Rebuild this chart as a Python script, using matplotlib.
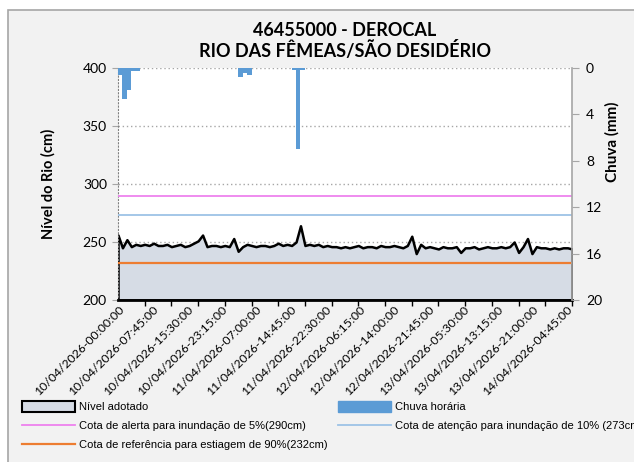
import matplotlib
matplotlib.use("Agg")
import matplotlib.pyplot as plt
from matplotlib.patches import Rectangle, Patch
from matplotlib.lines import Line2D

# hourly river level (cm), hour 0 = 10/04/2026 00:00
level = [256, 245, 252, 246, 248, 247, 248, 247, 249, 247,
         247, 248, 246, 247, 248, 246, 247, 249, 251, 256,
         246, 247, 247, 246, 247, 246, 253, 242, 246, 248,
         247, 246, 247, 247, 246, 247, 249, 247, 248, 247,
         250, 264, 247, 248, 247, 248, 246, 247, 246, 246,
         245, 246, 245, 246, 247, 245, 246, 246, 245, 247,
         246, 246, 247, 246, 245, 247, 255, 240, 248, 245,
         246, 245, 244, 246, 245, 245, 246, 241, 245, 245,
         246, 244, 245, 246, 245, 245, 246, 245, 246, 250,
         241, 246, 253, 240, 246, 245, 245, 244, 245, 244,
         245, 245, 244]
hours = list(range(len(level)))

# hourly rain (mm), only hours with rain
rain_hours = [0, 1, 2, 3, 4, 27, 28, 29, 39, 40, 41]
rain_mm = [0.6, 2.7, 1.9, 0.3, 0.3, 0.8, 0.4, 0.6, 0.2, 7.0, 0.2]

cota_alerta = 290
cota_atencao = 273
cota_estiagem = 232

label_hours = [0, 7.75, 15.5, 23.25, 31, 38.75, 46.5, 54.25, 62, 69.75,
               77.5, 85.25, 93, 100.75]
tick_labels = ['10/04/2026-00:00:00', '10/04/2026-07:45:00', '10/04/2026-15:30:00',
               '10/04/2026-23:15:00', '11/04/2026-07:00:00', '11/04/2026-14:45:00',
               '11/04/2026-22:30:00', '12/04/2026-06:15:00', '12/04/2026-14:00:00',
               '12/04/2026-21:45:00', '13/04/2026-05:30:00', '13/04/2026-13:15:00',
               '13/04/2026-21:00:00', '14/04/2026-04:45:00']

plt.rcParams['font.family'] = ['Lato', 'DejaVu Sans']
narrow = ['Liberation Sans Narrow', 'Liberation Sans', 'DejaVu Sans']

fig = plt.figure(figsize=(6.34, 4.62), dpi=100)
fig.patch.set_facecolor('white')
fig.patches.append(Rectangle((8 / 634, -0.1), 1.2, 1 - 10 / 462 + 0.1,
                             transform=fig.transFigure, facecolor='#f2f2f2',
                             edgecolor='#a6a6a6', linewidth=1.2, zorder=-10))

ax = fig.add_axes([118 / 634, 1 - 300 / 462, 454 / 634, 232 / 462])
ax.set_facecolor('white')
ax.set_xlim(0, 102)
ax.set_ylim(200, 400)
ax.set_yticks([200, 250, 300, 350, 400])
ax.yaxis.grid(True, linestyle=(0, (1, 2)), color='#a6a6a6', linewidth=1)
ax.set_axisbelow(True)

ax.fill_between(hours, 200, level, facecolor='#d6dce5', edgecolor='black', linewidth=1.8, zorder=2)
ax.axhline(cota_alerta, color='#ee82ee', linewidth=1.3, zorder=3)
ax.axhline(cota_atencao, color='#9dc3e6', linewidth=1.3, zorder=3)
ax.axhline(cota_estiagem, color='#ed7d31', linewidth=1.6, zorder=3)

for s in ['top', 'right']:
    ax.spines[s].set_visible(False)
ax.spines['left'].set_linestyle((0, (1, 2)))
ax.spines['left'].set_color('#808080')
ax.spines['bottom'].set_linewidth(2)
ax.tick_params(axis='y', length=4, color='#a6a6a6', labelsize=10, pad=4)

ax.set_xticks(label_hours)
ax.set_xticklabels(tick_labels, rotation=45, ha='right', rotation_mode='anchor', fontsize=8.8)
ax.set_xticks(range(0, 103, 6), minor=True)
ax.tick_params(axis='x', which='major', length=0, pad=3)
ax.tick_params(axis='x', which='minor', length=4, width=1, color='black')
ax.set_ylabel('Nível do Rio (cm)', fontsize=10.5, fontweight='bold')
ax.yaxis.set_label_coords(-62 / 454, 0.5)

ax2 = ax.twinx()
ax2.bar(rain_hours, rain_mm, width=1, align='edge', color='#5b9bd5', zorder=3)
ax2.set_ylim(20, 0)
ax2.set_yticks([0, 4, 8, 12, 16, 20])
for s in ['top', 'left', 'bottom']:
    ax2.spines[s].set_visible(False)
ax2.spines['right'].set_color('#a6a6a6')
ax2.spines['right'].set_linewidth(1.2)
ax2.tick_params(axis='y', length=5, color='#a6a6a6', labelsize=10, pad=5)
ax2.set_ylabel('Chuva (mm)', fontsize=11, fontweight='bold')
ax2.yaxis.set_label_coords(1 + 33 / 454, (300 - 142) / 232)

fig.text(345 / 634, 1 - 30 / 462, '46455000 - DEROCAL', ha='center', va='center',
         fontsize=13, fontweight='bold')
fig.text(345 / 634, 1 - 50 / 462, 'RIO DAS FÊMEAS/SÃO DESIDÉRIO', ha='center', va='center',
         fontsize=13, fontweight='bold')

handles = [Patch(facecolor='#d6dce5', edgecolor='black', linewidth=1.5),
           Line2D([], [], color='#ee82ee', linewidth=1.3),
           Line2D([], [], color='#ed7d31', linewidth=1.6),
           Patch(facecolor='#5b9bd5', edgecolor='#5b9bd5'),
           Line2D([], [], color='#9dc3e6', linewidth=1.3)]
labels = ['Nível adotado',
          'Cota de alerta para inundação de 5%(290cm)',
          'Cota de referência para estiagem de 90%(232cm)',
          'Chuva horária',
          'Cota de atenção para inundação de 10% (273cm)']
fig.legend(handles, labels, loc='upper left', bbox_to_anchor=(12 / 634, 1 - 391 / 462),
           ncol=2, frameon=False, handlelength=4.8, handleheight=1.1, handletextpad=0.35,
           columnspacing=0.9, labelspacing=0.72, prop={'family': narrow, 'size': 8})

fig.savefig('out.png', dpi=100)
